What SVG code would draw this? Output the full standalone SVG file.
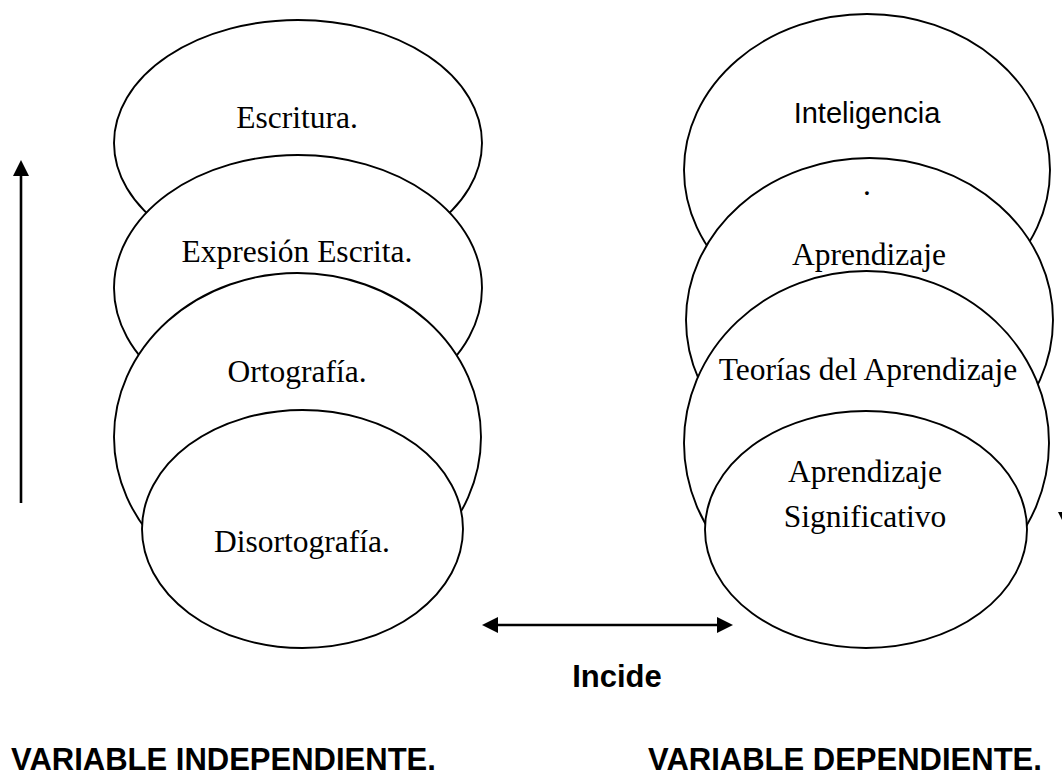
<svg xmlns="http://www.w3.org/2000/svg" width="1062" height="775" viewBox="0 0 1062 775">
<style>
.ov{fill:#ffffff;stroke:#000000;stroke-width:1.9}
.tr{font-family:"Liberation Serif","Times New Roman",serif;font-size:31.5px;fill:#000000;text-anchor:middle}
.ts{font-family:"Liberation Sans",Arial,sans-serif;font-size:29px;fill:#000000;text-anchor:middle}
.tb{font-family:"Liberation Sans",Arial,sans-serif;font-size:31px;font-weight:bold;fill:#000000}
.cn{stroke:#000000;stroke-width:2.6;fill:none}
</style>
<defs>
<marker id="ah" viewBox="0 0 16 16" refX="6" refY="8" markerWidth="16" markerHeight="16" markerUnits="userSpaceOnUse" orient="auto-start-reverse">
<path d="M0,0 L16,8 L0,16 z" fill="#000000"/>
</marker>
</defs>
<rect width="1062" height="775" fill="#ffffff"/>

<g id="escritura"><ellipse class="ov" cx="298" cy="143" rx="184" ry="123"/><text class="tr" x="297" y="128">Escritura.</text></g>
<g id="expresion"><ellipse class="ov" cx="298" cy="288" rx="184" ry="133"/><text class="tr" x="297" y="262">Expresión Escrita.</text></g>
<g id="ortografia"><ellipse class="ov" cx="297.5" cy="437" rx="183.5" ry="164"/><text class="tr" x="297" y="382">Ortografía.</text></g>
<g id="disortografia"><ellipse class="ov" cx="302.5" cy="529" rx="160.5" ry="119"/><text class="tr" x="302" y="552">Disortografía.</text></g>

<g id="inteligencia"><ellipse class="ov" cx="867" cy="170" rx="183" ry="156"/><text class="ts" x="867" y="123">Inteligencia</text></g>
<g id="aprendizaje"><ellipse class="ov" cx="869.5" cy="320" rx="183.5" ry="162"/><text class="tr" x="867" y="195">.</text><text class="tr" x="869" y="265">Aprendizaje</text></g>
<g id="teorias"><ellipse class="ov" cx="866.5" cy="443" rx="182.5" ry="172"/><text class="tr" x="868" y="380">Teorías del Aprendizaje</text></g>
<g id="significativo"><ellipse class="ov" cx="866" cy="529.5" rx="161" ry="118.5"/><text class="tr" x="865" y="482">Aprendizaje</text><text class="tr" x="865" y="527">Significativo</text></g>

<g id="connectors">
<line class="cn" x1="21" y1="503" x2="21" y2="170" marker-end="url(#ah)"/>
<line class="cn" x1="1066" y1="200" x2="1066" y2="518" marker-end="url(#ah)"/>
<line class="cn" x1="492" y1="625" x2="723" y2="625" marker-start="url(#ah)" marker-end="url(#ah)"/>
</g>

<g id="labels">
<text class="tb" x="617" y="687" text-anchor="middle">Incide</text>
<text class="tb" x="11" y="770">VARIABLE INDEPENDIENTE.</text>
<text class="tb" x="648" y="770">VARIABLE DEPENDIENTE.</text>
</g>
</svg>
